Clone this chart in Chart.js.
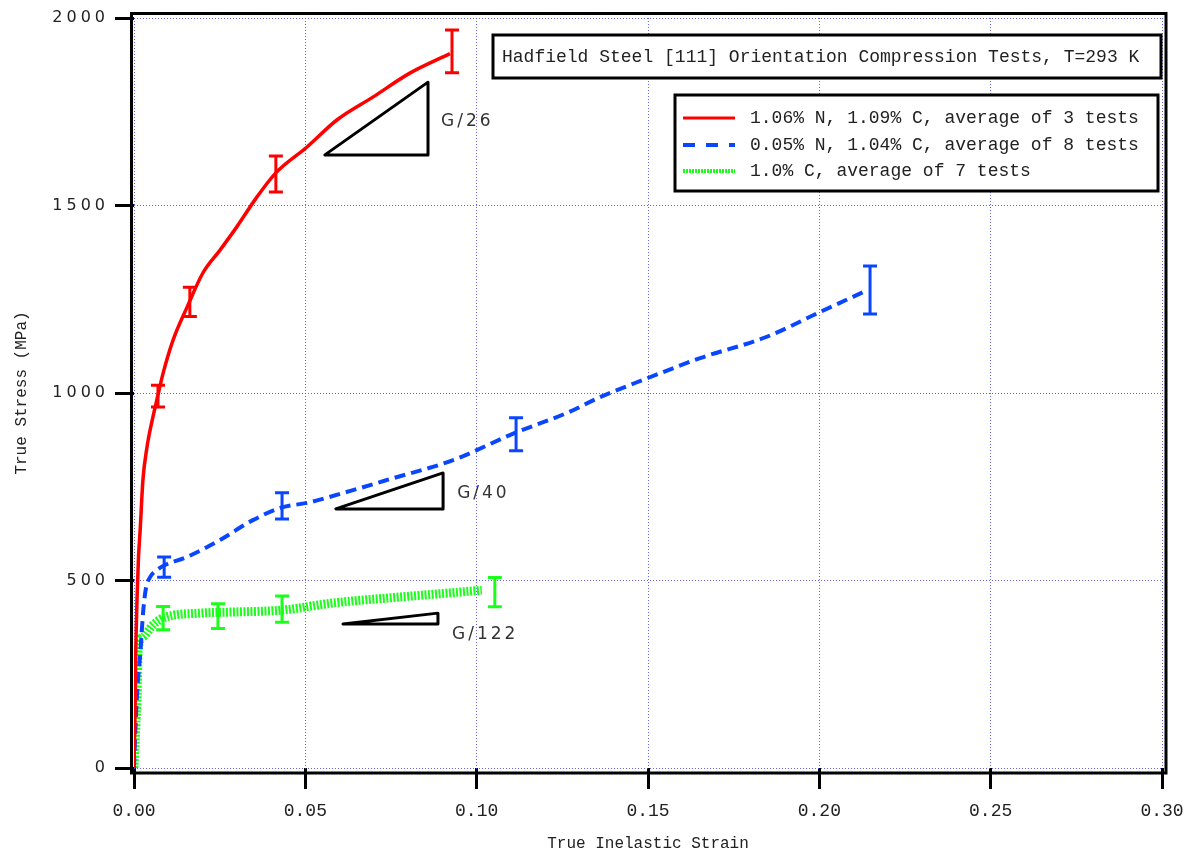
<!DOCTYPE html>
<html><head><meta charset="utf-8">
<script src="https://cdn.jsdelivr.net/npm/chart.js@4.4.1/dist/chart.umd.min.js"></script>
<style>html,body{margin:0;padding:0;background:#fff;}</style>
</head><body>
<canvas id="c" width="1190" height="853" style="width:1190px;height:853px;display:block"></canvas>
<script>
// ---- data ----
const xTicks = [0, 0.05, 0.10, 0.15, 0.20, 0.25, 0.30];
const yTicks = [0, 500, 1000, 1500, 2000];

const redStrain = [0, 0.0003, 0.0005, 0.0009, 0.0013, 0.0018, 0.0026, 0.0038, 0.0055, 0.0070, 0.0085, 0.0114, 0.0155, 0.0201, 0.0251, 0.0300, 0.0359, 0.0414, 0.0505, 0.0592, 0.0697, 0.0805, 0.0922];
const redStress = [0, 150, 300, 456, 560, 635, 768, 856, 935, 995, 1053, 1141, 1229, 1320, 1381, 1443, 1523, 1587, 1656, 1728, 1789, 1853, 1905];

const blueStrain = [0, 0.0004, 0.0008, 0.0013, 0.0018, 0.0023, 0.0028, 0.0035, 0.0047, 0.0067, 0.0088, 0.0155, 0.0251, 0.0347, 0.0432, 0.0505, 0.0639, 0.0738, 0.0931, 0.1110, 0.1264, 0.1360, 0.1500, 0.1652, 0.1847, 0.2002, 0.2142];
const blueStress = [0, 100, 180, 250, 300, 370, 430, 480, 509, 528, 540, 563, 608, 661, 695, 707, 741, 768, 821, 893, 947, 989, 1040, 1093, 1150, 1216, 1275];

const greenStrain = [0, 0.0003, 0.0006, 0.0009, 0.0012, 0.0026, 0.0055, 0.0085, 0.0193, 0.0289, 0.0432, 0.0580, 0.0776, 0.0922, 0.1015];
const greenStress = [0, 60, 130, 181, 315, 349, 381, 400, 413, 416, 421, 440, 456, 467, 474];

const redErrStrain = [0.0070, 0.0163, 0.0414, 0.0928];
const redErrMean = [992, 1243, 1584, 1911];
const redErrHalf = [29, 39, 48, 57];

const blueErrStrain = [0.0088, 0.0432, 0.1115, 0.2148];
const blueErrMean = [536, 699, 890, 1275];
const blueErrHalf = [27, 35, 44, 64];

const greenErrStrain = [0.0085, 0.0245, 0.0432, 0.1053];
const greenErrMean = [400, 405, 424, 469];
const greenErrHalf = [31, 33, 35, 39];

const seriesNames = ['1.06% N, 1.09% C, average of 3 tests', '0.05% N, 1.04% C, average of 8 tests', '1.0% C, average of 7 tests'];
const chartTitle = 'Hadfield Steel [111] Orientation Compression Tests, T=293 K';

const slopeLabels = ['G/26', 'G/40', 'G/122'];
const slopeX0 = [0.0557, 0.0589, 0.0610];
const slopeX1 = [0.0858, 0.0902, 0.0887];
const slopeY0 = [1635, 691, 384];
const slopeY1 = [1829, 787, 413];
const slopeLabelX = [0.0896, 0.0943, 0.0928];
const slopeLabelY = [1723, 733, 355];

// ---- helpers ----
const RED = '#ff0000', BLUE = '#0a46ff', GREEN = '#1aff1a';
function pts(xs, ys) { return xs.map((x, i) => ({ x: x, y: ys[i] })); }

const framePlugin = {
  id: 'frame',
  afterDraw(chart) {
    const { ctx, chartArea: a } = chart;
    ctx.save();
    ctx.lineWidth = 3;
    ctx.strokeStyle = '#000';
    ctx.strokeRect(a.left - 2.5, a.top - 4.5, (a.right + 4) - (a.left - 2.5), (a.bottom + 5) - (a.top - 4.5));
    ctx.restore();
  }
};

const errorBarPlugin = {
  id: 'errbars',
  afterDatasetsDraw(chart) {
    const { ctx, scales: { x, y } } = chart;
    const groups = [
      [RED, redErrStrain, redErrMean, redErrHalf],
      [BLUE, blueErrStrain, blueErrMean, blueErrHalf],
      [GREEN, greenErrStrain, greenErrMean, greenErrHalf]
    ];
    ctx.save();
    ctx.lineWidth = 3;
    groups.forEach(([col, xs, ms, hs]) => {
      ctx.strokeStyle = col;
      xs.forEach((sx, i) => {
        const px = x.getPixelForValue(sx);
        const pt = y.getPixelForValue(ms[i] + hs[i]);
        const pb = y.getPixelForValue(ms[i] - hs[i]);
        ctx.beginPath();
        ctx.moveTo(px, pt); ctx.lineTo(px, pb);
        ctx.moveTo(px - 7, pt); ctx.lineTo(px + 7, pt);
        ctx.moveTo(px - 7, pb); ctx.lineTo(px + 7, pb);
        ctx.stroke();
      });
    });
    // slope triangles
    ctx.strokeStyle = '#000';
    ctx.lineWidth = 3;
    ctx.lineJoin = 'round';
    slopeLabels.forEach((lab, i) => {
      const ax = x.getPixelForValue(slopeX0[i]), bx = x.getPixelForValue(slopeX1[i]);
      const ay = y.getPixelForValue(slopeY0[i]), cy = y.getPixelForValue(slopeY1[i]);
      ctx.beginPath();
      ctx.moveTo(ax, ay); ctx.lineTo(bx, ay); ctx.lineTo(bx, cy); ctx.closePath();
      ctx.stroke();
      ctx.fillStyle = '#333';
      ctx.font = '17px "DejaVu Sans"';
      ctx.letterSpacing = '3px';
      ctx.textAlign = 'left';
      ctx.textBaseline = 'middle';
      ctx.fillText(lab, x.getPixelForValue(slopeLabelX[i]), y.getPixelForValue(slopeLabelY[i]));
      ctx.letterSpacing = '0px';
    });
    ctx.restore();
  }
};

const boxesPlugin = {
  id: 'boxes',
  afterDraw(chart) {
    const { ctx } = chart;
    ctx.save();
    // title box
    ctx.fillStyle = '#fff';
    ctx.fillRect(493, 35, 668, 43);
    ctx.lineWidth = 3;
    ctx.strokeStyle = '#000';
    ctx.strokeRect(493, 35, 668, 43);
    ctx.fillStyle = '#222';
    ctx.font = '18px "Liberation Mono"';
    ctx.textAlign = 'left';
    ctx.textBaseline = 'middle';
    ctx.fillText(chartTitle, 502, 57);
    // legend box
    ctx.fillStyle = '#fff';
    ctx.fillRect(675, 95, 483, 96);
    ctx.strokeRect(675, 95, 483, 96);
    const rowsY = [118, 145, 171];
    const cols = [RED, BLUE, GREEN];
    const dashes = [[], [12, 11], [2, 1]];
    const widths = [3, 4, 4];
    seriesNames.forEach((name, i) => {
      ctx.strokeStyle = cols[i];
      ctx.lineWidth = widths[i];
      ctx.setLineDash(dashes[i]);
      ctx.beginPath();
      ctx.moveTo(683, rowsY[i]); ctx.lineTo(735, rowsY[i]);
      ctx.stroke();
      ctx.setLineDash([]);
      ctx.fillStyle = '#222';
      ctx.fillText(name, 750, rowsY[i]);
    });
    ctx.restore();
  }
};

const spacedTicksPlugin = {
  id: 'spacedTicks',
  afterUpdate(chart) {
    const s = chart.scales.y;
    if (s && !s._spacedWrapped) {
      const orig = s.drawLabels.bind(s);
      s.drawLabels = function (area) {
        const ctx = this.ctx;
        ctx.save();
        ctx.letterSpacing = '4px';
        orig(area);
        ctx.restore();
      };
      s._spacedWrapped = true;
    }
  }
};

const gridCommon = {
  color: 'rgba(70,70,255,0.85)',
  lineWidth: 1,
  drawTicks: true,
  tickColor: '#000',
  tickWidth: 3,
  tickBorderDash: []
};

new Chart(document.getElementById('c'), {
  type: 'scatter',
  data: {
    datasets: [
      { label: seriesNames[0], data: pts(redStrain, redStress), showLine: true, borderColor: RED, borderWidth: 3.5, pointRadius: 0, cubicInterpolationMode: 'monotone' },
      { label: seriesNames[1], data: pts(blueStrain, blueStress), showLine: true, borderColor: BLUE, borderWidth: 4, borderDash: [11, 6], pointRadius: 0, cubicInterpolationMode: 'monotone' },
      { label: seriesNames[2], data: pts(greenStrain, greenStress), showLine: true, borderColor: GREEN, borderWidth: 9, borderDash: [2, 1.5], pointRadius: 0, cubicInterpolationMode: 'monotone' }
    ]
  },
  options: {
    responsive: false,
    animation: false,
    devicePixelRatio: 1,
    layout: { padding: { left: 0, right: 28, top: 18, bottom: 0 } },
    plugins: { legend: { display: false }, tooltip: { enabled: false }, title: { display: false } },
    scales: {
      x: {
        type: 'linear', min: 0, max: 0.30,
        afterFit(scale) { scale.height = 85; scale.paddingLeft = 0; scale.paddingRight = 0; },
        afterBuildTicks(scale) { scale.ticks = xTicks.map(v => ({ value: v })); },
        grid: Object.assign({}, gridCommon, { tickLength: 21 }),
        border: { display: false, dash: [1, 2] },
        ticks: { color: '#222', font: { family: 'Liberation Mono', size: 18 }, padding: 11, maxRotation: 0, callback: v => Number(v).toFixed(2) },
        title: { display: true, text: 'True Inelastic Strain', color: '#222', font: { family: 'Liberation Mono', size: 16 }, padding: { top: 0, bottom: 0 } }
      },
      y: {
        type: 'linear', min: 0, max: 2000,
        afterFit(scale) { scale.width = 134; scale.paddingTop = 0; scale.paddingBottom = 0; },
        afterBuildTicks(scale) { scale.ticks = yTicks.map(v => ({ value: v })); },
        grid: Object.assign({}, gridCommon, { tickLength: 19 }),
        border: { display: false, dash: [1, 2] },
        ticks: { color: '#222', font: { family: 'DejaVu Sans', size: 16 }, padding: 6, callback: v => String(v) },
        title: { display: true, text: 'True Stress (MPa)', color: '#222', font: { family: 'Liberation Mono', size: 16 }, padding: { top: 12, bottom: 0 } }
      }
    }
  },
  plugins: [spacedTicksPlugin, errorBarPlugin, boxesPlugin, framePlugin]
});
</script>
</body></html>
